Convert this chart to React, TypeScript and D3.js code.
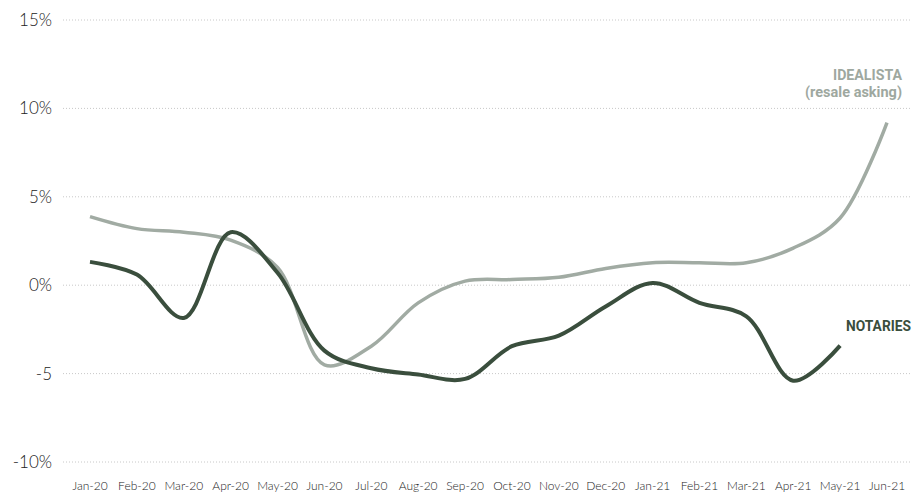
import React from "react";
import * as d3 from "d3";

const months = ["Jan-20","Feb-20","Mar-20","Apr-20","May-20","Jun-20","Jul-20","Aug-20","Sep-20","Oct-20","Nov-20","Dec-20","Jan-21","Feb-21","Mar-21","Apr-21","May-21","Jun-21"];
const idealista = [3.88, 3.2, 3.0, 2.55, 1.0, -4.5, -3.45, -1.0, 0.23, 0.32, 0.45, 0.95, 1.27, 1.27, 1.27, 2.1, 3.8, 9.2];
const notaries = [1.32, 0.6, -1.85, 3.0, 0.7, -3.7, -4.7, -5.05, -5.3, -3.45, -2.85, -1.2, 0.13, -1.0, -1.76, -5.4, -3.42];
const yTicks = [15, 10, 5, 0, -5, -10];
const yTickLabels = ["15%", "10%", "5%", "0%", "-5", "-10%"];

const W = 912, H = 495;

export default function App() {
  const x = d3.scalePoint<string>().domain(months).range([90, 887]);
  const y = d3.scaleLinear().domain([-10, 15]).range([462, 20]);
  const line = d3.line<number>()
    .x((_, i) => x(months[i]) as number)
    .y((d) => y(d))
    .curve(d3.curveCatmullRom.alpha(0.5));
  const axisFont = "Lato, 'Open Sans', sans-serif";
  return (
    <svg width={W} height={H} style={{ position: "absolute", left: 0, top: 0, background: "#fff" }}>
      {yTicks.map((t, i) => (
        <g key={t}>
          <line x1={63} x2={910} y1={y(t)} y2={y(t)} stroke="#c8c8c8" strokeWidth={1} strokeDasharray="1,2" />
          <text x={52} y={y(t)} dy="0.35em" textAnchor="end" fontFamily={axisFont} fontWeight={300} fontSize={17} fill="#222">{yTickLabels[i]}</text>
        </g>
      ))}
      {months.map((m) => (
        <text key={m} x={x(m)} y={490} textAnchor="middle" fontFamily={axisFont} fontWeight={300} fontSize={12} fill="#222">{m}</text>
      ))}
      <path d={line(idealista) || ""} fill="none" stroke="#a1aba3" strokeWidth={3.5} strokeLinecap="butt" />
      <path d={line(notaries) || ""} fill="none" stroke="#3a4e3d" strokeWidth={4} strokeLinecap="butt" />
      <text x={902} y={80} textAnchor="end" fontFamily="Roboto, sans-serif" fontWeight={700} fontSize={14} textLength={69} lengthAdjust="spacingAndGlyphs" fill="#9ea89f">IDEALISTA</text>
      <text x={902} y={97} textAnchor="end" fontFamily="Roboto, sans-serif" fontWeight={700} fontSize={14} textLength={97} lengthAdjust="spacingAndGlyphs" fill="#9ea89f">(resale asking)</text>
      <text x={911} y={331} textAnchor="end" fontFamily="Roboto, sans-serif" fontWeight={700} fontSize={14} textLength={65} lengthAdjust="spacingAndGlyphs" fill="#3a4e3d">NOTARIES</text>
    </svg>
  );
}
